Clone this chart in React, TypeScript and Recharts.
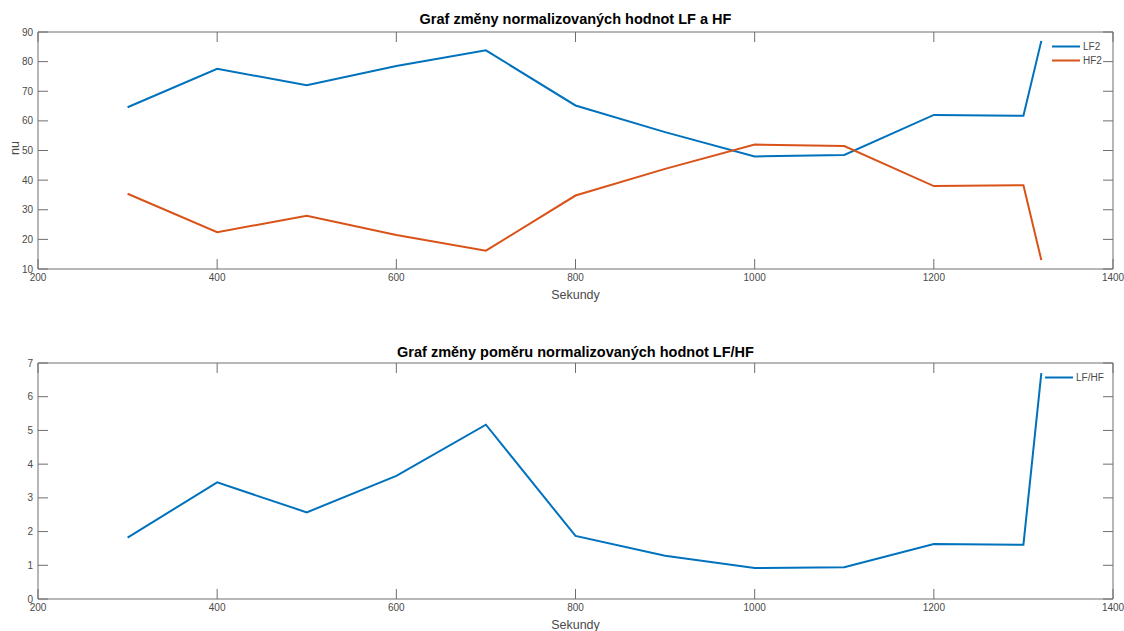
import React from 'react';
import { LineChart, Line, XAxis, YAxis, Legend } from 'recharts';

// time in seconds
const seconds = [300, 400, 500, 600, 700, 800, 900, 1000, 1100, 1200, 1300, 1320];
const lf2 = [64.6, 77.6, 72.0, 78.5, 83.8, 65.2, 56.2, 48.0, 48.5, 62.0, 61.7, 87.0];
const hf2 = [35.4, 22.4, 28.0, 21.5, 16.2, 34.8, 43.8, 52.0, 51.5, 38.0, 38.3, 13.0];
const lfhf = [1.82, 3.46, 2.57, 3.65, 5.17, 1.87, 1.28, 0.92, 0.94, 1.63, 1.61, 6.7];

const xTicks = [200, 400, 600, 800, 1000, 1200, 1400];
const nuTicks = [10, 20, 30, 40, 50, 60, 70, 80, 90];
const ratioTicks = [0, 1, 2, 3, 4, 5, 6, 7];

const FONT = '"Liberation Sans", Arial, Helvetica, sans-serif';
const AXIS = '#6e6e6e';
const TEXT = '#4a4a4a';
const BLUE = '#0072BD';
const ORANGE = '#D95319';

const nuData = seconds.map((t, i) => ({ t, LF2: lf2[i], HF2: hf2[i] }));
const ratioData = seconds.map((t, i) => ({ t, 'LF/HF': lfhf[i] }));

const tickStyle = { fontSize: 10, fill: TEXT, fontFamily: FONT };
const blank = () => '';

const MatlabLegend = ({ items }: { items: { name: string; color: string }[] }) => (
    <div style={{ fontFamily: FONT, fontSize: 10, color: TEXT }}>
        {items.map((it) => (
            <div key={it.name} style={{ display: 'flex', alignItems: 'center', height: 13.5 }}>
                <svg width={30} height={13} style={{ display: 'block' }}>
                    <line x1={0} y1={6.5} x2={28} y2={6.5} stroke={it.color} strokeWidth={2} />
                </svg>
                <span style={{ marginLeft: 1 }}>{it.name}</span>
            </div>
        ))}
    </div>
);

const App: React.FC = () => {
    const axisLine = { stroke: AXIS, strokeWidth: 1 };
    const tickLine = { stroke: AXIS, strokeWidth: 1 };
    return (
        <div style={{ position: 'absolute', left: 0, top: 0, width: 1124, height: 631, background: '#fff', fontFamily: FONT }}>
            <div style={{ position: 'absolute', left: 38, width: 1075, top: 11, textAlign: 'center', fontWeight: 'bold', fontSize: 14.5, color: '#000' }}>
                Graf změny normalizovaných hodnot LF a HF
            </div>
            <div style={{ position: 'absolute', left: 38, width: 1075, top: 288, textAlign: 'center', fontSize: 12.5, color: TEXT }}>
                Sekundy
            </div>
            <div style={{ position: 'absolute', left: 15, top: 148, fontSize: 12.5, color: TEXT, transform: 'translate(-50%, -50%) rotate(-90deg)' }}>
                nu
            </div>
            <div style={{ position: 'absolute', left: 0, top: 0 }}>
                <LineChart width={1124} height={315} data={nuData} margin={{ top: 31, right: 10, bottom: 0, left: 0 }}>
                    <XAxis dataKey="t" type="number" domain={[200, 1400]} ticks={xTicks} height={46}
                        tick={tickStyle} tickSize={-10} tickMargin={15} axisLine={axisLine} tickLine={tickLine} />
                    <XAxis xAxisId="top" orientation="top" dataKey="t" type="number" domain={[200, 1400]} ticks={xTicks} height={1}
                        tickFormatter={blank} tickSize={-10} axisLine={axisLine} tickLine={tickLine} />
                    <YAxis type="number" domain={[10, 90]} ticks={nuTicks} width={38}
                        tick={tickStyle} tickSize={-10} tickMargin={15} axisLine={axisLine} tickLine={tickLine} />
                    <YAxis yAxisId="right" orientation="right" type="number" domain={[10, 90]} ticks={nuTicks} width={1}
                        tickFormatter={blank} tickSize={-10} axisLine={axisLine} tickLine={tickLine} />
                    {/* invisible copy so the box axes (top/right) get drawn */}
                    <Line xAxisId="top" yAxisId="right" dataKey="LF2" stroke="none" dot={false} legendType="none" isAnimationActive={false} />
                    <Line type="linear" dataKey="LF2" stroke={BLUE} strokeWidth={2} dot={false} isAnimationActive={false} />
                    <Line type="linear" dataKey="HF2" stroke={ORANGE} strokeWidth={2} dot={false} isAnimationActive={false} />
                    <Legend layout="vertical" align="center" verticalAlign="middle"
                        wrapperStyle={{ left: 1052, top: 40, width: 70, height: 30 }}
                        content={() => <MatlabLegend items={[{ name: 'LF2', color: BLUE }, { name: 'HF2', color: ORANGE }]} />} />
                </LineChart>
            </div>

            <div style={{ position: 'absolute', left: 38, width: 1075, top: 344, textAlign: 'center', fontWeight: 'bold', fontSize: 14.5, color: '#000' }}>
                Graf změny poměru normalizovaných hodnot LF/HF
            </div>
            <div style={{ position: 'absolute', left: 38, width: 1075, top: 618, textAlign: 'center', fontSize: 12.5, color: TEXT }}>
                Sekundy
            </div>
            <div style={{ position: 'absolute', left: 0, top: 315 }}>
                <LineChart width={1124} height={316} data={ratioData} margin={{ top: 47, right: 10, bottom: 0, left: 0 }}>
                    <XAxis dataKey="t" type="number" domain={[200, 1400]} ticks={xTicks} height={32}
                        tick={tickStyle} tickSize={-10} tickMargin={15} axisLine={axisLine} tickLine={tickLine} />
                    <XAxis xAxisId="top" orientation="top" dataKey="t" type="number" domain={[200, 1400]} ticks={xTicks} height={1}
                        tickFormatter={blank} tickSize={-10} axisLine={axisLine} tickLine={tickLine} />
                    <YAxis type="number" domain={[0, 7]} ticks={ratioTicks} width={38}
                        tick={tickStyle} tickSize={-10} tickMargin={15} axisLine={axisLine} tickLine={tickLine} />
                    <YAxis yAxisId="right" orientation="right" type="number" domain={[0, 7]} ticks={ratioTicks} width={1}
                        tickFormatter={blank} tickSize={-10} axisLine={axisLine} tickLine={tickLine} />
                    <Line xAxisId="top" yAxisId="right" dataKey="LF/HF" stroke="none" dot={false} legendType="none" isAnimationActive={false} />
                    <Line type="linear" dataKey="LF/HF" stroke={BLUE} strokeWidth={2} dot={false} isAnimationActive={false} />
                    <Legend layout="vertical" align="center" verticalAlign="middle"
                        wrapperStyle={{ left: 1045, top: 56, width: 78, height: 16 }}
                        content={() => <MatlabLegend items={[{ name: 'LF/HF', color: BLUE }]} />} />
                </LineChart>
            </div>
        </div>
    );
};

export default App;
